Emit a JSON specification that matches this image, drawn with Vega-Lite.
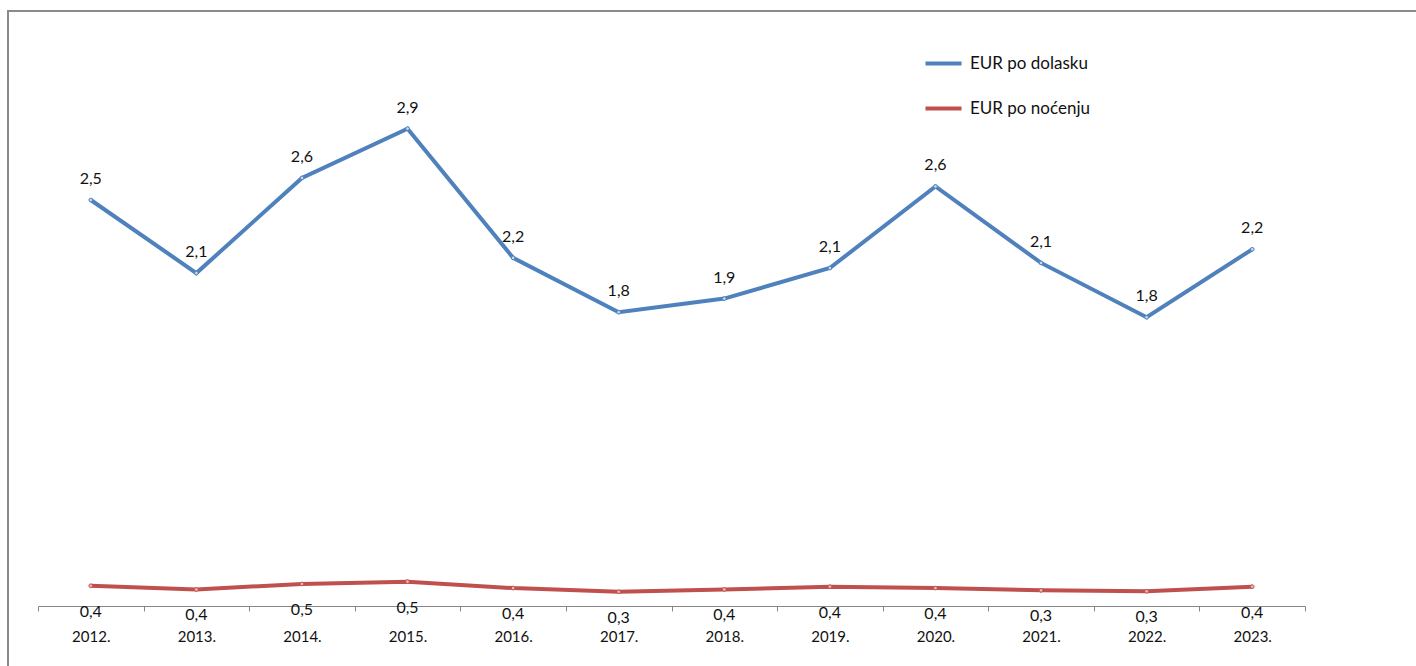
{
  "$schema": "https://vega.github.io/schema/vega-lite/v6.json",
  "autosize": {"type": "none"},
  "width": 1412,
  "height": 659,
  "padding": {"left": 8, "top": 11, "right": -4, "bottom": -4},
  "background": "white",
  "config": {
    "view": {"stroke": "#8a8a8a", "strokeWidth": 2},
    "font": "Lato",
    "locale": {"number": {"decimal": ",", "thousands": ".", "grouping": [3], "currency": ["", " €"]}}
  },
  "data": {
    "values": [
      {"year": "2012.", "series": "EUR po dolasku", "value": 2.50},
      {"year": "2013.", "series": "EUR po dolasku", "value": 2.07},
      {"year": "2014.", "series": "EUR po dolasku", "value": 2.63},
      {"year": "2015.", "series": "EUR po dolasku", "value": 2.92},
      {"year": "2016.", "series": "EUR po dolasku", "value": 2.16},
      {"year": "2017.", "series": "EUR po dolasku", "value": 1.84},
      {"year": "2018.", "series": "EUR po dolasku", "value": 1.92},
      {"year": "2019.", "series": "EUR po dolasku", "value": 2.10},
      {"year": "2020.", "series": "EUR po dolasku", "value": 2.58},
      {"year": "2021.", "series": "EUR po dolasku", "value": 2.13},
      {"year": "2022.", "series": "EUR po dolasku", "value": 1.81},
      {"year": "2023.", "series": "EUR po dolasku", "value": 2.21},
      {"year": "2012.", "series": "EUR po noćenju", "value": 0.44},
      {"year": "2013.", "series": "EUR po noćenju", "value": 0.36},
      {"year": "2014.", "series": "EUR po noćenju", "value": 0.48},
      {"year": "2015.", "series": "EUR po noćenju", "value": 0.53},
      {"year": "2016.", "series": "EUR po noćenju", "value": 0.39},
      {"year": "2017.", "series": "EUR po noćenju", "value": 0.31},
      {"year": "2018.", "series": "EUR po noćenju", "value": 0.36},
      {"year": "2019.", "series": "EUR po noćenju", "value": 0.42},
      {"year": "2020.", "series": "EUR po noćenju", "value": 0.39},
      {"year": "2021.", "series": "EUR po noćenju", "value": 0.34},
      {"year": "2022.", "series": "EUR po noćenju", "value": 0.32},
      {"year": "2023.", "series": "EUR po noćenju", "value": 0.42}
    ]
  },
  "encoding": {
    "x": {
      "field": "year",
      "type": "ordinal",
      "bandPosition": 0.5,
      "scale": {"type": "band", "range": [30, 1297], "paddingInner": 0, "paddingOuter": 0},
      "axis": {
        "title": null,
        "orient": "bottom",
        "offset": -64,
        "labelAngle": 0,
        "tickBand": "extent",
        "domainColor": "#868686",
        "tickColor": "#868686",
        "tickSize": 5,
        "grid": false,
        "labelFont": "Lato",
        "labelFontSize": 15,
        "labelColor": "#111111",
        "labelPadding": 18
      }
    }
  },
  "resolve": {"scale": {"y": "independent"}},
  "layer": [
    {
      "transform": [{"filter": "datum.series === 'EUR po dolasku'"}],
      "encoding": {
        "y": {
          "field": "value",
          "type": "quantitative",
          "scale": {"domain": [-0.265, 3.612], "nice": false, "zero": false},
          "axis": null
        }
      },
      "layer": [
        {
          "mark": {"type": "line", "strokeWidth": 4},
          "encoding": {
            "color": {
              "field": "series",
              "type": "nominal",
              "scale": {"domain": ["EUR po dolasku", "EUR po noćenju"], "range": ["#4F81BD", "#C0504D"]},
              "legend": {
                "title": null,
                "orient": "none",
                "legendX": 915,
                "legendY": 32,
                "symbolType": "stroke",
                "symbolSize": 1300,
                "symbolStrokeWidth": 4,
                "rowPadding": 16,
                "labelFont": "Lato",
                "labelFontSize": 17,
                "labelColor": "#111111",
                "labelOffset": 6
              }
            }
          }
        },
        {
          "mark": {"type": "point", "filled": true, "size": 14, "fill": "#C6D6EC", "stroke": "#4F81BD", "strokeWidth": 1, "opacity": 1}
        },
        {
          "mark": {"type": "text", "dy": -21, "baseline": "middle", "fontSize": 16, "font": "Lato", "color": "#111111"},
          "encoding": {"text": {"field": "value", "type": "quantitative", "format": ".1f"}}
        }
      ]
    },
    {
      "transform": [{"filter": "datum.series === 'EUR po noćenju'"}],
      "encoding": {
        "y": {
          "field": "value",
          "type": "quantitative",
          "scale": {"domain": [-1.391, 12.935], "nice": false, "zero": false},
          "axis": null
        }
      },
      "layer": [
        {
          "mark": {"type": "line", "strokeWidth": 4},
          "encoding": {
            "color": {"field": "series", "type": "nominal"}
          }
        },
        {
          "mark": {"type": "point", "filled": true, "size": 14, "fill": "#E6B9B8", "stroke": "#C0504D", "strokeWidth": 1, "opacity": 1}
        },
        {
          "mark": {"type": "text", "dy": 26, "baseline": "middle", "fontSize": 16, "font": "Lato", "color": "#111111"},
          "encoding": {"text": {"field": "value", "type": "quantitative", "format": ".1f"}}
        }
      ]
    }
  ]
}
